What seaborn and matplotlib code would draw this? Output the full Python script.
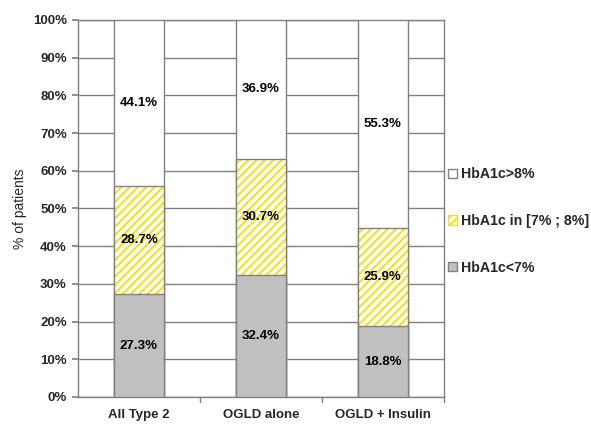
import matplotlib
matplotlib.use("Agg")
import matplotlib.pyplot as plt
import seaborn as sns
import pandas as pd
from matplotlib.patches import Patch

categories = ["All Type 2", "OGLD alone", "OGLD + Insulin"]
below7 = [27.3, 32.4, 18.8]
between7_8 = [28.7, 30.7, 25.9]
above8 = [44.1, 36.9, 55.3]
yticks = [0, 10, 20, 30, 40, 50, 60, 70, 80, 90, 100]

sns.set_theme(style="white")
plt.rcParams["font.family"] = ["Liberation Sans", "DejaVu Sans"]
plt.rcParams["hatch.linewidth"] = 1.5

df = pd.DataFrame({"group": categories, "low": below7, "mid": between7_8, "high": above8})
df["cum_mid"] = df["low"] + df["mid"]
df["cum_high"] = df["cum_mid"] + df["high"]

fig = plt.figure(figsize=(5.91, 4.29), dpi=100)
ax = fig.add_axes([0.132, 0.0746, 0.619, 0.879])

edge = "#808080"
yellow = "#f2e21a"
w = 0.41
# stacked bars drawn back-to-front from cumulative totals
sns.barplot(data=df, x="group", y="cum_high", color="white", edgecolor=edge,
            linewidth=1.0, width=w, ax=ax, zorder=3)
sns.barplot(data=df, x="group", y="cum_mid", color="white", edgecolor=yellow,
            hatch="////", linewidth=0, width=w, ax=ax, zorder=3)
sns.barplot(data=df, x="group", y="cum_mid", fill=False, edgecolor=edge,
            linewidth=1.0, width=w, ax=ax, zorder=4)
sns.barplot(data=df, x="group", y="low", color="#c0c0c0", edgecolor=edge,
            linewidth=1.0, width=w, ax=ax, zorder=5)

# value labels centred in each segment
for i, row in df.iterrows():
    for base, val in [(0, row["low"]), (row["low"], row["mid"]), (row["cum_mid"], row["high"])]:
        ax.text(i, base + val / 2, f"{val:.1f}%", ha="center", va="center",
                fontsize=9.5, fontweight="bold", color="black", zorder=6)

ax.set_ylim(0, 100)
ax.set_xlim(-0.5, 2.5)
ax.set_yticks(yticks)
ax.set_yticklabels([f"{t}%" for t in yticks], fontsize=9.5, fontweight="bold")
ax.yaxis.grid(True, color=edge, linewidth=1.0, zorder=0)
ax.set_axisbelow(True)

ax.set_xticks([0, 1, 2])
ax.set_xticklabels(categories, fontsize=9.5, fontweight="bold")
ax.tick_params(axis="x", length=0, pad=9)
ax.tick_params(axis="y", left=True, length=4, color=edge, pad=4)
for x in [0.5, 1.5, 2.5]:
    ax.plot([x, x], [0, -1.2], color=edge, lw=1.0, clip_on=False)

ax.set_xlabel("")
ax.set_ylabel("% of patients", fontsize=10)
for s in ax.spines.values():
    s.set_color(edge)
    s.set_linewidth(1.0)

handles = [
    Patch(facecolor="white", edgecolor=edge, label="HbA1c>8%"),
    Patch(facecolor="white", edgecolor=yellow, hatch="////", label="HbA1c in [7% ; 8%]"),
    Patch(facecolor="#c0c0c0", edgecolor=edge, label="HbA1c<7%"),
]
leg = fig.legend(handles=handles, loc="center left", bbox_to_anchor=(0.758, 0.485),
                 frameon=False, fontsize=10.2, handlelength=0.62, handleheight=0.62,
                 labelspacing=2.3, handletextpad=0.3, borderpad=0, borderaxespad=0)
for t in leg.get_texts():
    t.set_fontweight("bold")

fig.savefig("out.png", dpi=100)
